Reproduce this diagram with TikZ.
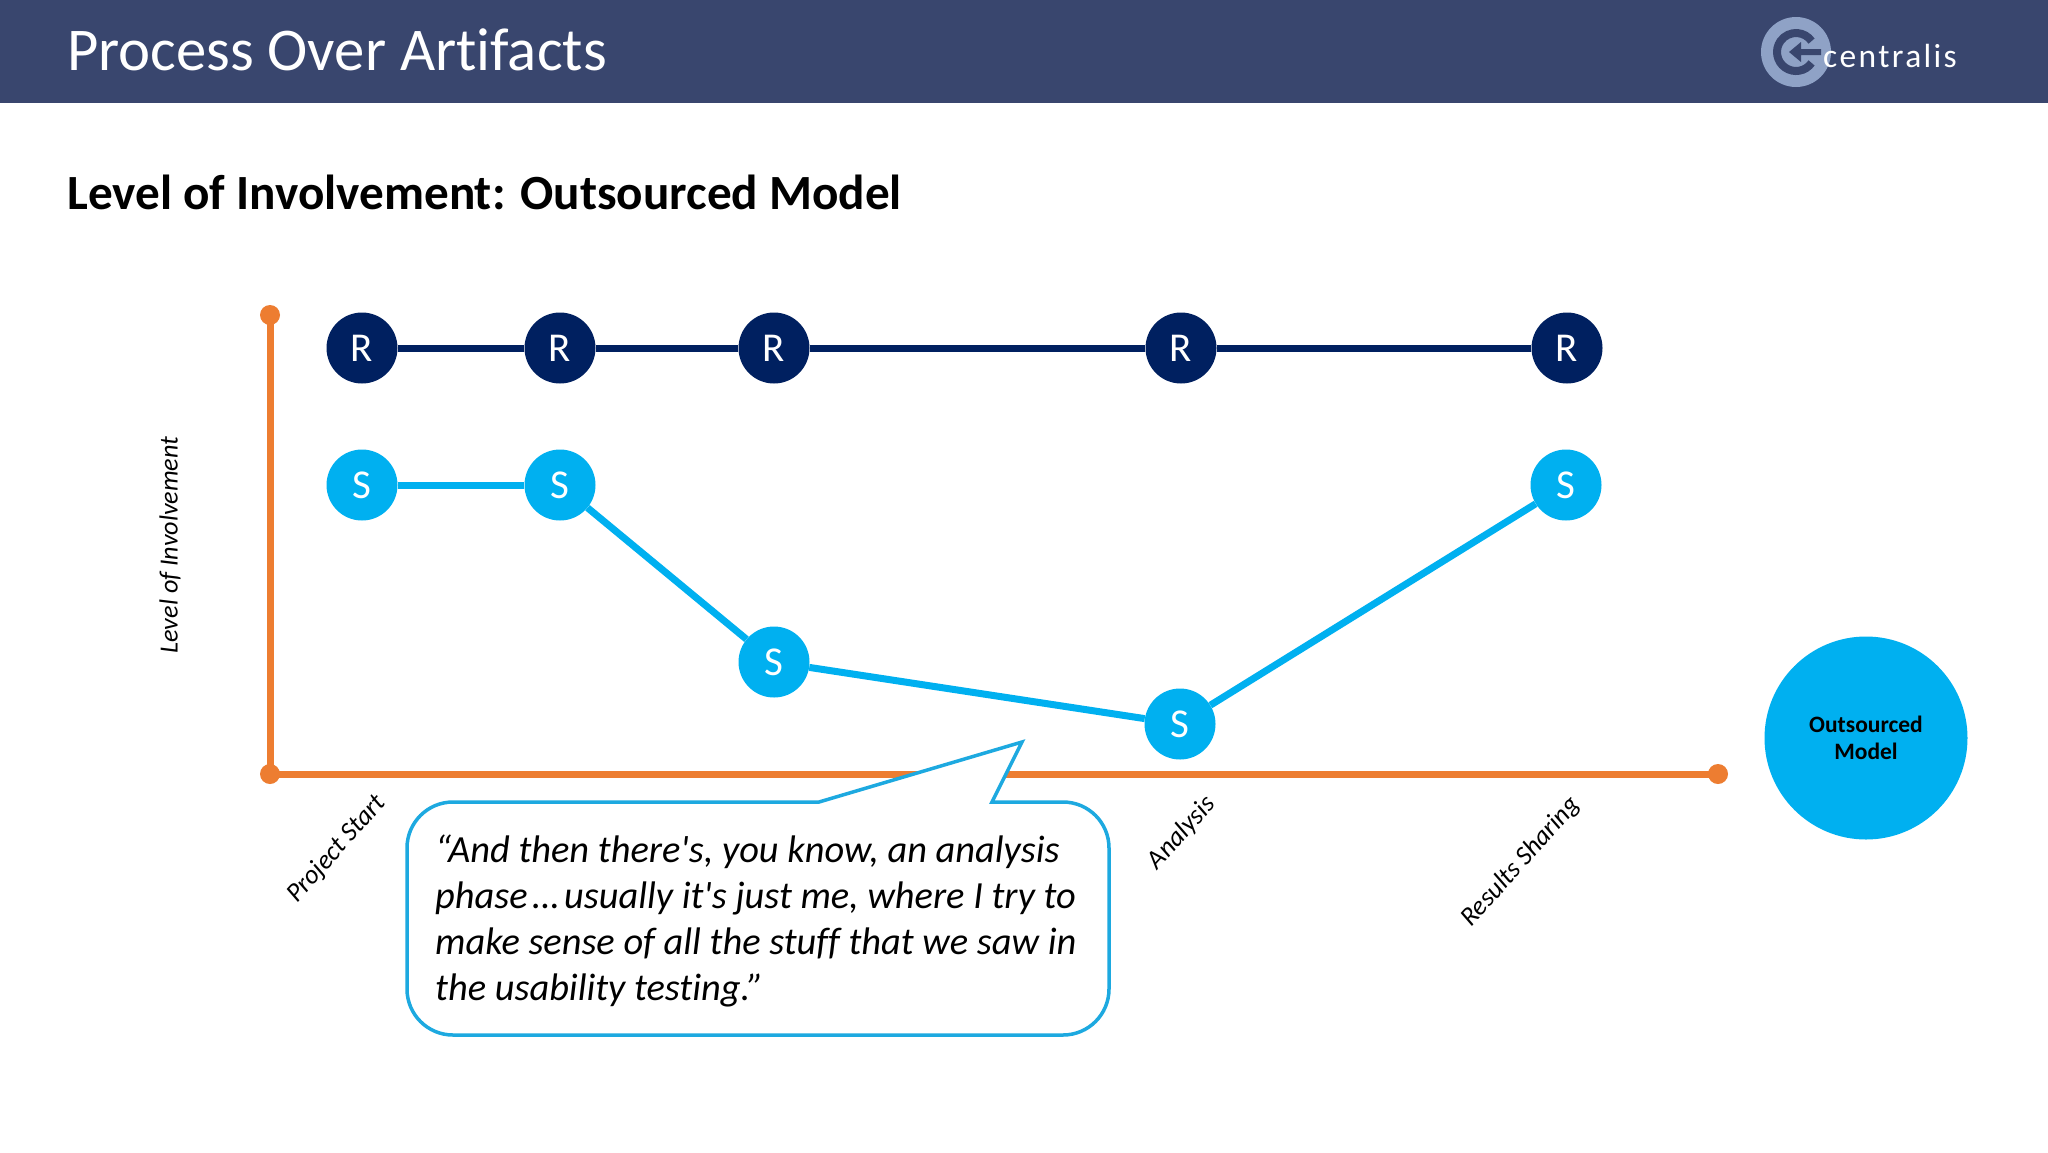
\documentclass[tikz,border=0pt]{standalone}
\usepackage{fontspec}
\setmainfont{Carlito}[Ligatures={TeXOff,NoCommon}]
\definecolor{hdr}{HTML}{39466E}
\definecolor{navy}{HTML}{002060}
\definecolor{cyanb}{HTML}{00B0F0}
\definecolor{orng}{HTML}{ED7D31}
\definecolor{bubb}{HTML}{1DA9E0}
\definecolor{logol}{HTML}{8FA2C6}
\tikzset{
 rnode/.style={circle,fill=navy,text=white,minimum size=71pt,inner sep=0pt,font=\fontsize{41}{41}\selectfont},
 snode/.style={circle,fill=cyanb,text=white,minimum size=71pt,inner sep=0pt,font=\fontsize{41}{41}\selectfont},
 rline/.style={navy,line width=7pt},
 sline/.style={cyanb,line width=7pt},
 axisline/.style={orng,line width=7pt},
 axisdot/.style={circle,fill=orng,minimum size=20pt,inner sep=0pt},
 axlabel/.style={font=\fontsize{26.6}{27}\selectfont\itshape,black,inner sep=0pt},
}
\begin{document}
\begin{tikzpicture}[x=1pt,y=-1pt]
\useasboundingbox (0,0) rectangle (2048,1152);
\fill[white] (0,0) rectangle (2048,1152);
\fill[hdr] (0,0) rectangle (2048,103);
\node[anchor=west,text=white,inner sep=0pt,font=\fontsize{60.7}{61}\selectfont] (title) at (67,50) {Process Over Artifacts};
\node[anchor=west,text=black,inner sep=0pt,font=\fontsize{49.2}{49}\selectfont\bfseries] (subtitle) at (67,192) {Level of Involvement: Outsourced Model};
% logo
\fill[logol] (1796,52) circle (35);
\draw[hdr,line width=8pt] (1796,52) ++(35:19) arc[start angle=35,end angle=325,radius=19];
\fill[hdr] (1789,52) -- (1801,42) -- (1801,49) -- (1821,49) -- (1821,55) -- (1801,55) -- (1801,62) -- cycle;
\node[anchor=west,text=white,inner sep=0pt,font=\fontsize{33.5}{33}\selectfont] (logotext) at (1823,56) {\addfontfeature{LetterSpace=7}centralis};
% axes
\coordinate (axtop) at (270,315);
\coordinate (axorg) at (270,774);
\coordinate (axend) at (1718,774);
\draw[axisline] (axtop) -- (axorg) -- (axend);
\node[axisdot] (dtop) at (axtop) {};
\node[axisdot] (dorg) at (axorg) {};
\node[axisdot] (dend) at (axend) {};
% nodes
\node[rnode] (r1) at (362,348) {R};
\node[rnode] (r2) at (560,348) {R};
\node[rnode] (r3) at (774,348) {R};
\node[rnode] (r4) at (1181,348) {R};
\node[rnode] (r5) at (1567,348) {R};
\node[snode] (s1) at (362,485) {S};
\node[snode] (s2) at (560,485) {S};
\node[snode] (s3) at (774,662) {S};
\node[snode] (s4) at (1180,724) {S};
\node[snode] (s5) at (1566,485) {S};
\draw[rline] (r1) -- (r2); \draw[rline] (r2) -- (r3); \draw[rline] (r3) -- (r4); \draw[rline] (r4) -- (r5);
\draw[sline] (s1) -- (s2); \draw[sline] (s2) -- (s3); \draw[sline] (s3) -- (s4); \draw[sline] (s4) -- (s5);
% labels
\node[axlabel,rotate=90,font=\fontsize{26.2}{27}\selectfont\itshape] (ylabel) at (170,545) {Level of Involvement};
\node[axlabel,rotate=48] (l1) at (337,849) {Project Start};
\node[axlabel,rotate=48] (l4) at (1182,833) {Analysis};
\node[axlabel,rotate=48] (l5) at (1521,862) {Results Sharing};
\node[circle,fill=cyanb,minimum size=203pt,inner sep=0pt,align=center,font=\fontsize{23.5}{27}\selectfont\bfseries] (model) at (1866,738) {Outsourced\\Model};
% bubble
\draw[bubb,line width=3.5pt,fill=white,line join=miter]
 (819,802) -- (1022,742) -- (992,802) -- (1063,802)
 arc[start angle=-90,end angle=0,radius=46] -- (1109,989)
 arc[start angle=0,end angle=90,radius=46] -- (453,1035)
 arc[start angle=90,end angle=180,radius=46] -- (407,848)
 arc[start angle=180,end angle=270,radius=46] -- cycle;
\node[anchor=north west,inner sep=0pt,align=left,font=\fontsize{38.4}{46}\selectfont\itshape] (quote) at (435,835)
 {“And then there's, you know, an analysis\\phase\kern5pt…\kern5pt usually it's just me, where I try to\\make sense of all the stuff that we saw in\\the usability testing.”};
\end{tikzpicture}
\end{document}
